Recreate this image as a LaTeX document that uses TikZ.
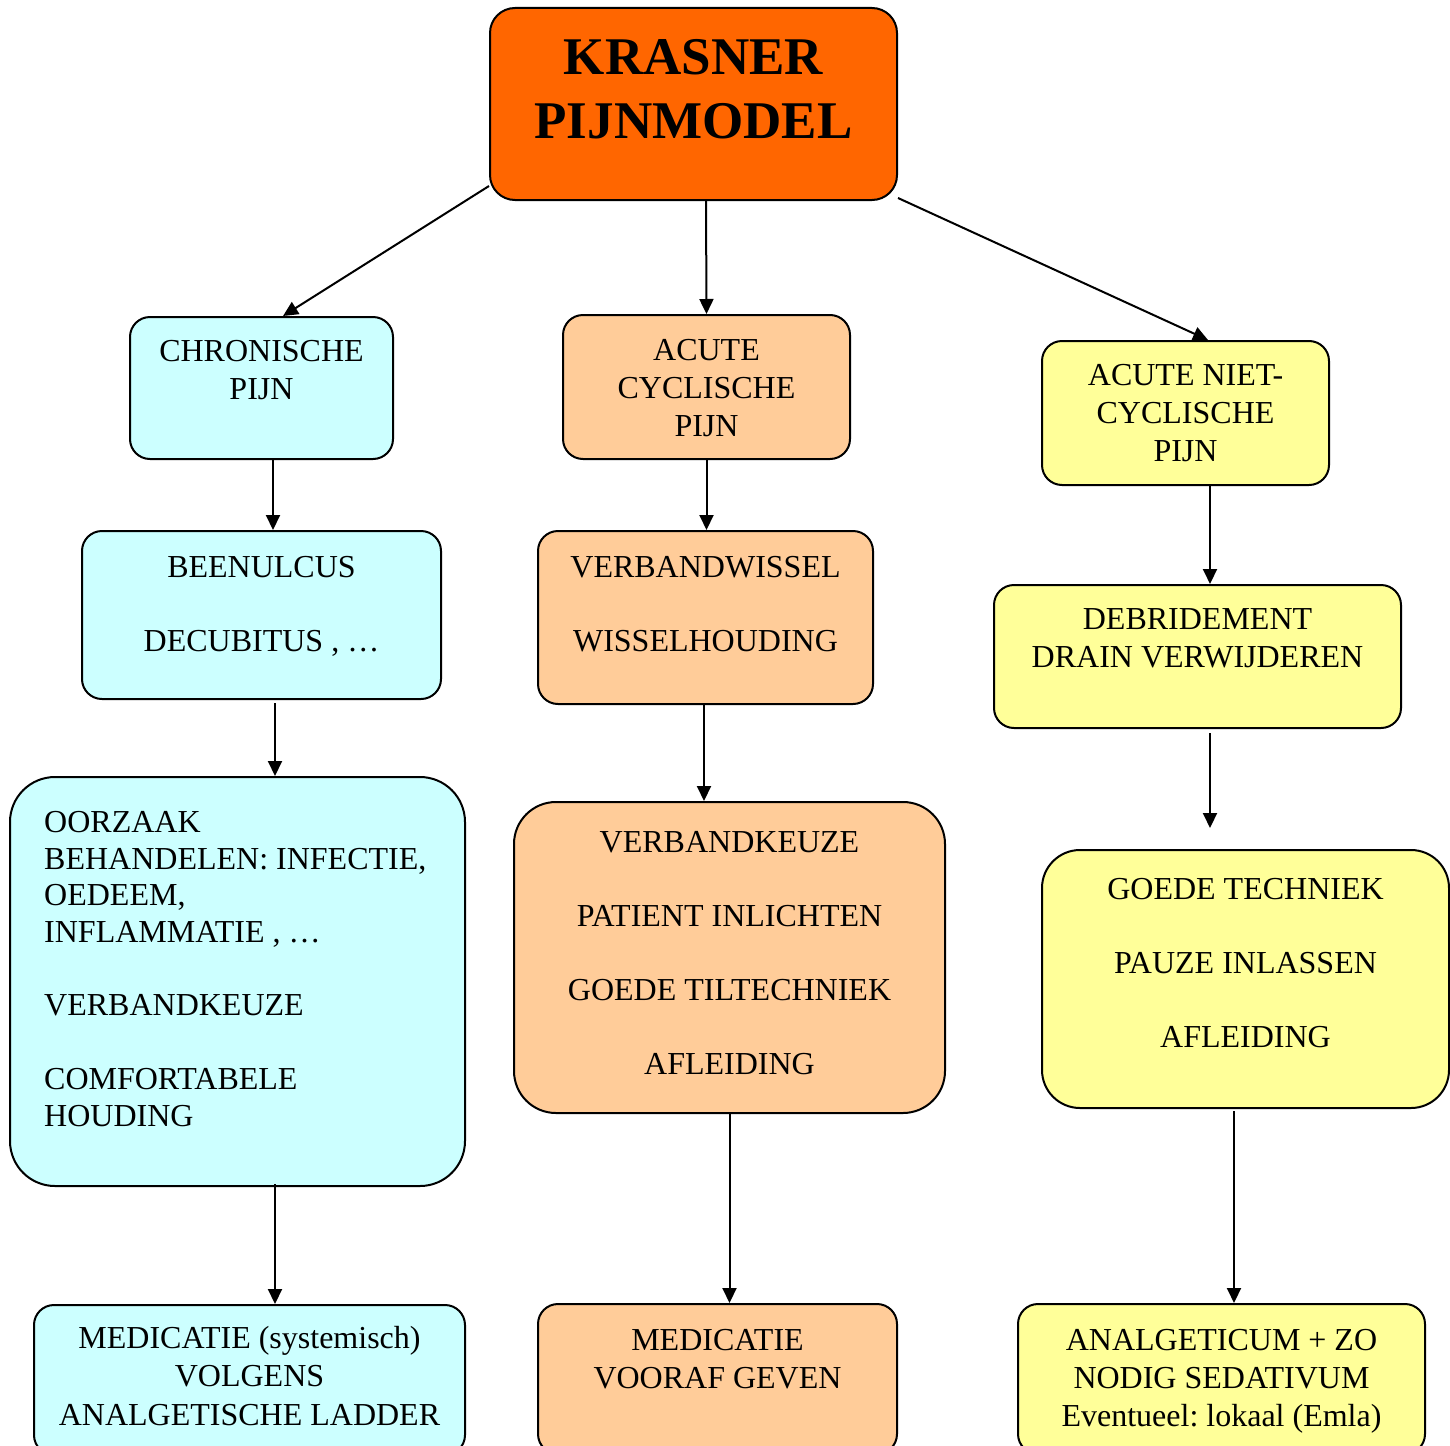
\documentclass[tikz,border=0pt]{standalone}
\usepackage{fontspec}
\setmainfont{Liberation Serif}
\usetikzlibrary{arrows.meta}
\frenchspacing

\definecolor{titel}{RGB}{255,102,0}
\definecolor{chronisch}{RGB}{204,255,255}
\definecolor{cyclisch}{RGB}{255,204,153}
\definecolor{nietcyclisch}{RGB}{255,255,153}

\begin{document}
\begin{tikzpicture}[x=1pt,y=-1pt,
    vak/.style={draw, line width=2pt, rounded corners=20pt, inner sep=0pt},
    tekst/.style={anchor=north, inner sep=0pt, align=center, font=\fontsize{32}{38}\selectfont},
    pijl/.style={draw, line width=2pt, -{Triangle[length=15pt,width=14pt]}}]

      \useasboundingbox (0,0) rectangle (1450,1445);

      \begin{scope}[every node/.style={vak}]
        \node[fill=titel, rounded corners=25pt, minimum width=407pt, minimum height=192pt] (titel) at (693.5,104) {};
        \node[fill=chronisch, minimum width=263pt, minimum height=142pt] (chron) at (261.5,388) {};
        \node[fill=cyclisch, minimum width=287pt, minimum height=144pt] (acyc) at (706.5,387) {};
        \node[fill=nietcyclisch, minimum width=287pt, minimum height=144pt] (nacyc) at (1185.5,413) {};
        \node[fill=chronisch, minimum width=359pt, minimum height=168pt] (been) at (261.5,615) {};
        \node[fill=cyclisch, minimum width=335pt, minimum height=173pt] (wissel) at (705.5,617.5) {};
        \node[fill=nietcyclisch, minimum width=407pt, minimum height=143pt] (debr) at (1197.5,656.5) {};
        \node[fill=chronisch, rounded corners=45pt, minimum width=455pt, minimum height=409pt] (oorz) at (237.5,981.5) {};
        \node[fill=cyclisch, rounded corners=42pt, minimum width=431pt, minimum height=311pt] (keuze) at (729.5,957.5) {};
        \node[fill=nietcyclisch, rounded corners=38pt, minimum width=407pt, minimum height=258pt] (goed) at (1245.5,979) {};
        \node[fill=chronisch, minimum width=431pt, minimum height=150pt] (medi) at (249.5,1380) {};
        \node[fill=cyclisch, minimum width=359pt, minimum height=150pt] (vooraf) at (717.5,1379) {};
        \node[fill=nietcyclisch, minimum width=407pt, minimum height=150pt] (anal) at (1221.5,1379) {};
      \end{scope}

      % teksten
      \node[tekst, font=\fontsize{53}{64}\selectfont\bfseries] (titel-t) at ([yshift=-32pt]titel.north) {KRASNER\\PIJNMODEL};
      \node[tekst] (chron-t) at ([yshift=-24pt]chron.north) {CHRONISCHE\\PIJN};
      \node[tekst] (acyc-t) at ([yshift=-25pt]acyc.north) {ACUTE\\CYCLISCHE\\PIJN};
      \node[tekst] (nacyc-t) at ([yshift=-24pt]nacyc.north) {ACUTE NIET-\\CYCLISCHE\\PIJN};
      \node[tekst] (been-t) at ([yshift=-26.5pt]been.north) {BEENULCUS\\[36pt]DECUBITUS , …};
      \node[tekst] (wissel-t) at ([yshift=-26.5pt]wissel.north) {VERBANDWISSEL\\[36pt]WISSELHOUDING};
      \node[tekst] (debr-t) at ([yshift=-24pt]debr.north) {DEBRIDEMENT\\DRAIN VERWIJDEREN};
      \node[tekst, anchor=north west, align=left, font=\fontsize{32}{36.7}\selectfont] (oorz-t)
        at ([xshift=35pt,yshift=-35pt]oorz.north west)
        {OORZAAK\\BEHANDELEN: INFECTIE,\\OEDEEM,\\INFLAMMATIE , …\\[36.7pt]VERBANDKEUZE\\[36.7pt]COMFORTABELE\\HOUDING};
      \node[tekst, font=\fontsize{32}{37}\selectfont] (keuze-t) at ([yshift=-30.5pt]keuze.north)
        {VERBANDKEUZE\\[37pt]PATIENT INLICHTEN\\[37pt]GOEDE TILTECHNIEK\\[37pt]AFLEIDING};
      \node[tekst, font=\fontsize{32}{37}\selectfont] (goed-t) at ([yshift=-29pt]goed.north)
        {GOEDE TECHNIEK\\[37pt]PAUZE INLASSEN\\[37pt]AFLEIDING};
      \node[tekst, font=\fontsize{32}{38.5}\selectfont] (medi-t) at ([yshift=-22pt]medi.north) {MEDICATIE (systemisch)\\VOLGENS\\ANALGETISCHE LADDER};
      \node[tekst] (vooraf-t) at ([yshift=-26pt]vooraf.north) {MEDICATIE\\VOORAF GEVEN};
      \node[tekst] (anal-t) at ([yshift=-26pt]anal.north) {ANALGETICUM + ZO\\NODIG SEDATIVUM\\Eventueel: lokaal (Emla)};

      \coordinate (goed-in) at (1210,828);

      % pijlen
      \draw[pijl] ([yshift=15pt]titel.south west) -- ([xshift=21.5pt]chron.north);
      \draw[pijl] ([xshift=12.5pt]titel.south) -- (acyc.north);
      \draw[pijl] ([yshift=3pt]titel.south east) -- ([xshift=22.5pt]nacyc.north);
      \draw[pijl] ([xshift=11.5pt]chron.south) -- ([xshift=11.5pt]been.north);
      \draw[pijl] (acyc.south) -- (acyc.south |- wissel.north);
      \draw[pijl] ([xshift=24.5pt]nacyc.south) -- ([xshift=24.5pt]nacyc.south |- debr.north);
      \draw[pijl] ([xshift=13.5pt,yshift=-3pt]been.south) -- ([xshift=13.5pt]been.south |- oorz.north);
      \draw[pijl] ([xshift=-1.5pt]wissel.south) -- ([xshift=-1.5pt]wissel.south |- keuze.north);
      \draw[pijl] ([xshift=12.5pt,yshift=-4pt]debr.south) -- (goed-in);
      \draw[pijl] ([xshift=37.5pt,yshift=3pt]oorz.south) -- ([xshift=37.5pt]oorz.south |- medi.north);
      \draw[pijl] (keuze.south) -- (keuze.south |- vooraf.north);
      \draw[pijl] ([xshift=-11.5pt,yshift=-2pt]goed.south) -- ([xshift=-11.5pt]goed.south |- anal.north);

    \end{tikzpicture}
\end{document}
